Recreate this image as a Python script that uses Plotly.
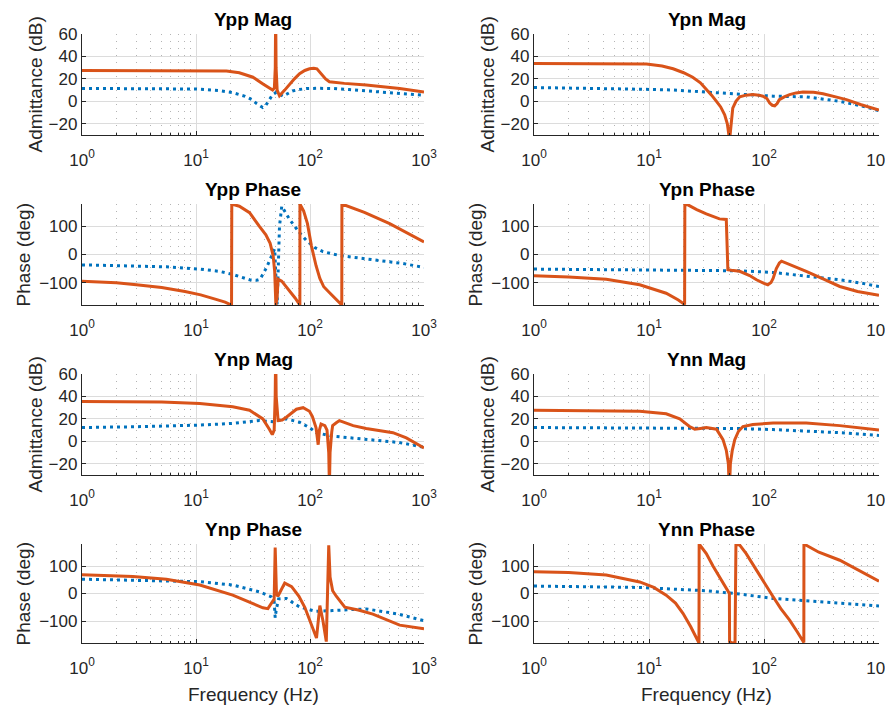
import plotly.graph_objects as go
from plotly.subplots import make_subplots

# ---- data (frequency in Hz, magnitude in dB, phase in deg)
# blue dotted = series A, orange solid = series B

ypp_mag_fa = [1, 3, 10, 16, 21, 27, 31, 34, 38.5, 41, 44, 47, 50.5, 54, 58, 64, 70, 80, 93, 120, 160, 220, 310, 450, 650, 1000]
ypp_mag_a = [11.5, 11.4, 11, 9.5, 7.7, 4.5, 1.5, -2, -5.5, -3.5, 1.5, 6, 8, 6, 4.6, 7, 9.2, 10.5, 11.4, 11.6, 11.4, 10.5, 9.2, 7.8, 6.8, 5.5]
ypp_mag_fb = [1, 5, 12, 18.5, 24, 31.6, 38.7, 44, 47, 48.7, 49.6, 50, 50.4, 51.5, 54, 60, 66, 73, 81, 90, 99, 108, 115, 125, 137, 148, 160, 200, 311, 450, 612, 1000]
ypp_mag_b = [27.5, 27.5, 27.3, 27, 25.5, 21.5, 15.5, 11.5, 10, 12, 30, 80, 30, 10, 5, 10, 15, 20, 24.6, 27.5, 29, 29.5, 29, 24.6, 20, 17.5, 17, 16, 14.5, 13, 11.4, 8.3]

ypn_mag_fa = [1, 3, 8.3, 16, 31.5, 61.5, 120, 233, 456, 700, 1000]
ypn_mag_a = [12.3, 11.8, 10.8, 10.1, 8.3, 6.8, 4.6, 4, 0, -4, -8.3]
ypn_mag_fb = [1, 5, 9.5, 13, 16.2, 20, 24, 28, 31.5, 35, 38.6, 42, 45.5, 48, 49.5, 50, 50.5, 52, 53.5, 57, 61.5, 70, 80, 90, 98, 106, 112, 118, 124, 130, 136, 150, 167, 190, 218, 270, 326, 420, 521, 700, 1000]
ypn_mag_b = [33.8, 33.8, 33.2, 31.5, 29, 25.5, 21.5, 16.5, 10.8, 5.5, 0, -5, -12, -20, -30, -45, -32, -15, -6, 0, 4, 5.5, 6, 5.5, 4.6, 2.5, -1.5, -3.5, -4, -2, 1.5, 4, 6, 7.5, 8.3, 8, 6.8, 4, 1.5, -3, -7.7]

ypp_ph_fa = [1, 3, 5.5, 10.8, 16, 21, 25, 29.5, 34, 36.5, 41.5, 44, 47, 49, 51.5, 54, 56.5, 66.5, 80, 93, 110, 130, 183, 256, 400, 650, 1000]
ypp_ph_a = [-37, -41, -44, -52, -60, -71, -82, -90, -92, -88, -47, -25, 0, 20, -178, 100, 172, 124, 80, 50, 25, 10, -4, -12, -22, -32, -46]
ypp_ph_fb = [1, 2, 3, 5, 8, 11, 15, 18, 20.5, 20.6, 24, 29.5, 36, 41, 44.7, 47.5, 49, 50.2, 51.5, 52.5, 56.5, 65, 74, 81.5, 81.6, 88, 95, 103, 113, 122, 132, 150, 170, 190, 190.5, 300, 500, 1000]
ypp_ph_b = [-95, -101, -108, -118, -132, -144, -160, -170, -180, 180, 172, 149, 100, 70, 40, -4, -60, -180, -150, -88, -95, -125, -155, -180, 180, 155, 110, 30, -40, -85, -115, -138, -160, -180, 180, 150, 110, 45]

ypn_ph_fa = [1, 5, 16.2, 61.5, 120, 233, 456, 700, 1000]
ypn_ph_a = [-52, -54, -57, -58, -64, -76, -90, -102, -114]
ypn_ph_fb = [1, 2, 4.25, 8.3, 14.1, 18, 20.4, 20.5, 21.8, 26, 31.5, 36, 41, 47, 48, 48.5, 52, 61.5, 75, 86, 100, 108, 115, 120, 128, 136, 142, 180, 233, 330, 456, 650, 1000]
ypn_ph_b = [-76, -80, -88, -108, -138, -162, -178, 178, 177, 160, 145, 135, 127, 125, 20, -54, -56, -60, -75, -90, -103, -108, -100, -85, -50, -30, -24, -40, -60, -88, -114, -132, -145]

ynp_mag_fa = [1, 3, 10.8, 21, 36, 47.5, 62, 81, 100, 113, 158, 311, 600, 1000]
ynp_mag_a = [12.3, 13, 14.5, 16, 18.5, 17.5, 20, 17, 12, 7.7, 4.6, 2, -1, -5.2]
ynp_mag_fb = [1, 5, 10.8, 21, 29.5, 38.6, 44, 46.7, 48.5, 49.5, 50, 50.5, 52.5, 57, 62, 70, 76, 87, 99, 105, 109, 113, 118, 121, 125, 135, 141, 146, 148, 150, 155, 158, 170, 181, 239, 311, 534, 700, 1000]
ynp_mag_b = [35.4, 35, 33.8, 30.8, 27.7, 20, 10.8, 6, 10, 40, 80, 40, 18.5, 19, 21.5, 26, 28.6, 30, 26.8, 22, 17, 12, -3, 10, 15.4, 14, 10, -10, -40, -10, 8, 14, 16.5, 18.5, 14, 11.4, 7.7, 3, -6]

ynn_mag_fa = [1, 5, 15, 30, 61.5, 120, 233, 500, 1000]
ynn_mag_a = [12.3, 12.2, 12, 11.7, 11.4, 10.5, 9.2, 7.5, 5.2]
ynn_mag_fb = [1, 4, 8.3, 14.1, 18.5, 22.5, 25, 28, 31.5, 38.6, 44, 47, 49, 50, 51, 53, 55.7, 60, 65.6, 80, 120, 233, 456, 1000]
ynn_mag_b = [27.7, 27.3, 26.8, 24.6, 20, 13.2, 10.8, 11.5, 12.3, 10.8, 1.5, -8, -20, -45, -20, -8, 1.5, 9, 13.2, 15, 16.3, 16.3, 14, 10]

ynp_ph_fa = [1, 5.5, 10.8, 21, 36, 45.6, 48.5, 49.5, 50.5, 53, 62, 81, 102, 113, 158, 311, 600, 1000]
ynp_ph_a = [52, 47, 43, 31, 6, -12, -30, -88, -60, -20, -18, -49, -62, -65, -62, -56, -75, -99]
ynp_ph_fb = [1, 2.8, 5.5, 10.8, 21, 31.6, 38.6, 42.7, 47, 48.5, 49.5, 50.8, 52.3, 60, 69, 80, 90, 98, 106, 114, 122, 130, 139, 146, 150, 158, 170, 202, 265, 356, 612, 1000]
ynp_ph_b = [68, 62, 52, 31, -6, -37, -52, -55, -25, -20, 167, 0, -10, 38, 25, -10, -50, -90, -125, -162, -44, -100, -175, 175, 60, 10, -10, -50, -60, -75, -115, -128]

ynn_ph_fa = [1, 3, 8.3, 31.5, 61.5, 120, 233, 500, 1000]
ynn_ph_a = [27, 25, 22, 10, -2, -18, -27, -36, -45]
ynn_ph_fb = [1, 2, 4.25, 8.3, 11, 14.1, 17, 19.8, 23, 26.5, 27.2, 27.3, 31.5, 36, 41, 46, 50, 50.2, 53, 56, 57, 61.5, 70, 86, 100, 120, 140, 167, 195, 222, 222.5, 300, 456, 700, 1000]
ynn_ph_b = [79, 76, 67, 42, 22, -6, -35, -73, -120, -170, -180, 180, 145, 100, 61, 25, 0, -175, -180, -178, 178, 176, 145, 85, 40, -12, -55, -97, -140, -178, 180, 150, 121, 80, 45]

panels = [
    ("Ypp Mag", "mag", ypp_mag_fa, ypp_mag_a, ypp_mag_fb, ypp_mag_b),
    ("Ypn Mag", "mag", ypn_mag_fa, ypn_mag_a, ypn_mag_fb, ypn_mag_b),
    ("Ypp Phase", "ph", ypp_ph_fa, ypp_ph_a, ypp_ph_fb, ypp_ph_b),
    ("Ypn Phase", "ph", ypn_ph_fa, ypn_ph_a, ypn_ph_fb, ypn_ph_b),
    ("Ynp Mag", "mag", ynp_mag_fa, ynp_mag_a, ynp_mag_fb, ynp_mag_b),
    ("Ynn Mag", "mag", ynn_mag_fa, ynn_mag_a, ynn_mag_fb, ynn_mag_b),
    ("Ynp Phase", "ph", ynp_ph_fa, ynp_ph_a, ynp_ph_fb, ynp_ph_b),
    ("Ynn Phase", "ph", ynn_ph_fa, ynn_ph_a, ynn_ph_fb, ynn_ph_b),
]

W, H = 893, 709
OFF = 8  # the page body puts the figure 8px in from the window corner
FONT = "Liberation Sans, Arial, Helvetica, sans-serif"
BLUE = "#0072BD"
ORANGE = "#D95319"
AX = "#262626"

# plot-area boxes in window pixels
col_x = [(82, 424), (534, 879)]
row_y = [(34, 135), (204, 305), (374, 475), (544, 643)]


def px(v):
    return (v - OFF) / W


def py(v):
    return 1 - (v - OFF) / H


minor_vals = [m * 10 ** d for d in range(3) for m in range(2, 10)]

fig = make_subplots(rows=4, cols=2)

for i, (title, kind, fa, va, fb, vb) in enumerate(panels):
    r, c = i // 2 + 1, i % 2 + 1
    fig.add_trace(go.Scatter(x=fa, y=va, mode="lines",
                             line=dict(color=BLUE, width=3, dash="3px,4px"),
                             showlegend=False), row=r, col=c)
    fig.add_trace(go.Scatter(x=fb, y=vb, mode="lines",
                             line=dict(color=ORANGE, width=3),
                             showlegend=False), row=r, col=c)

    x0, x1 = col_x[c - 1]
    y0, y1 = row_y[r - 1]
    fig.update_xaxes(
        type="log", range=[0, 3], domain=[px(x0), px(x1)], automargin=False,
        tickmode="array", tickvals=[1, 10, 100, 1000],
        ticktext=["10<sup>0</sup>", "10<sup>1</sup>", "10<sup>2</sup>", "10<sup>3</sup>"],
        ticklabelstandoff=9,
        showgrid=True, gridcolor="#dcdcdc", gridwidth=1,
        showline=True, linecolor=AX, linewidth=1.3, mirror=False,
        ticks="inside", ticklen=4, tickcolor=AX,
        minor=dict(tickvals=minor_vals, showgrid=True, gridcolor="#b4b4b4",
                   griddash="1px,6px", gridwidth=1, ticks="inside", ticklen=2, tickcolor=AX),
        tickfont=dict(family=FONT, size=17, color=AX),
        row=r, col=c)
    if kind == "mag":
        yr, yt = [-30, 60], [-20, 0, 20, 40, 60]
    else:
        yr, yt = [-180, 180], [-100, 0, 100]
    fig.update_yaxes(
        range=yr, tickvals=yt, domain=[py(y1), py(y0)], automargin=False,
        showgrid=True, gridcolor="#dcdcdc", gridwidth=1, zeroline=False,
        showline=True, linecolor=AX, linewidth=1.3, mirror=False,
        ticks="inside", ticklen=4, tickcolor=AX,
        tickfont=dict(family=FONT, size=17, color=AX),
        row=r, col=c)

    xc = (x0 + x1) / 2
    fig.add_annotation(text="<b>" + title + "</b>", x=px(xc), y=py(y0),
                       xref="paper", yref="paper", xanchor="center", yanchor="bottom",
                       yshift=2, showarrow=False,
                       font=dict(family=FONT, size=19, color="#000000"))
    ylab = "Admittance (dB)" if kind == "mag" else "Phase (deg)"
    lab_off = 47 if kind == "mag" else 59
    fig.add_annotation(text=ylab, x=px(x0 - lab_off), y=py((y0 + y1) / 2),
                       xref="paper", yref="paper", xanchor="center", yanchor="middle",
                       textangle=-90, showarrow=False,
                       font=dict(family=FONT, size=19, color=AX))
    if r == 4:
        fig.add_annotation(text="Frequency (Hz)", x=px(xc), y=py(694),
                           xref="paper", yref="paper", xanchor="center", yanchor="middle",
                           showarrow=False, font=dict(family=FONT, size=19, color=AX))

fig.update_layout(
    width=W, height=H,
    margin=dict(l=0, r=0, t=0, b=0),
    paper_bgcolor="white", plot_bgcolor="white",
    font=dict(family=FONT, color=AX),
)

fig.write_html("out.html")
